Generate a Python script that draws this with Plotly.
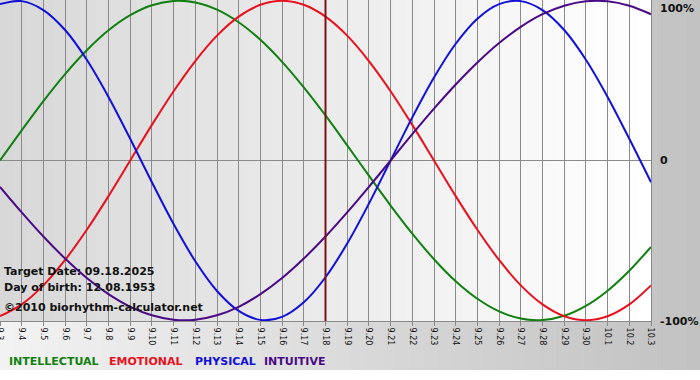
import plotly.graph_objects as go

days = ["9.3", "9.4", "9.5", "9.6", "9.7", "9.8", "9.9", "9.10", "9.11", "9.12",
        "9.13", "9.14", "9.15", "9.16", "9.17", "9.18", "9.19", "9.20", "9.21", "9.22",
        "9.23", "9.24", "9.25", "9.26", "9.27", "9.28", "9.29", "9.30", "10.1", "10.2", "10.3"]

intellectual = [0.000, 0.189, 0.372, 0.541, 0.690, 0.815, 0.910, 0.972, 0.999, 0.990,
                0.945, 0.866, 0.756, 0.618, 0.458, 0.282, 0.095, -0.095, -0.282, -0.458,
                -0.618, -0.756, -0.866, -0.945, -0.990, -0.999, -0.972, -0.910, -0.815, -0.690, -0.541]
emotional = [-0.975, -0.901, -0.782, -0.623, -0.434, -0.223, 0.000, 0.223, 0.434, 0.623,
             0.782, 0.901, 0.975, 1.000, 0.975, 0.901, 0.782, 0.623, 0.434, 0.223,
             0.000, -0.223, -0.434, -0.623, -0.782, -0.901, -0.975, -1.000, -0.975, -0.901, -0.782]
physical = [0.979, 0.998, 0.942, 0.817, 0.631, 0.398, 0.136, -0.136, -0.398, -0.631,
            -0.817, -0.942, -0.998, -0.979, -0.888, -0.731, -0.520, -0.270, 0.000, 0.270,
            0.520, 0.731, 0.888, 0.979, 0.998, 0.942, 0.817, 0.631, 0.398, 0.136, -0.136]
intuitive = [-0.165, -0.325, -0.476, -0.614, -0.736, -0.837, -0.916, -0.969, -0.997, -0.997,
             -0.969, -0.916, -0.837, -0.736, -0.614, -0.476, -0.325, -0.165, 0.000, 0.165,
             0.325, 0.476, 0.614, 0.736, 0.837, 0.916, 0.969, 0.997, 0.997, 0.969, 0.916]

series_names = ["INTELLECTUAL", "EMOTIONAL", "PHYSICAL", "INTUITIVE"]
series_values = [intellectual, emotional, physical, intuitive]
series_colors = ["#108010", "#e8101c", "#1010d8", "#4a0a86"]

target_day = "9.18"
info_lines = ["Target Date: 09.18.2025", "Day of birth: 12.08.1953", "\u00a92010 biorhythm-calculator.net"]
y_ticks = [1, 0, -1]
y_tick_labels = ["100%", "0", "-100%"]

W, H = 700, 380
PL, PR, PT, PB = 0, 651, 0, 321  # plot area in pixels


def px_x(x):
    return (x - PL) / (PR - PL)


def px_y(y):
    return (PB - y) / (PB - PT)


def gradient(x0, x1, y0, y1, c0, c1, n=48):
    out = []
    for i in range(n):
        t = i / (n - 1)
        c = round(c0 + (c1 - c0) * t)
        xa = x0 + (x1 - x0) * i / n
        xb = x0 + (x1 - x0) * (i + 1) / n + 0.5
        out.append(dict(type="rect", xref="paper", yref="paper",
                        x0=px_x(xa), x1=px_x(min(xb, x1)), y0=px_y(y1), y1=px_y(y0),
                        fillcolor=f"rgb({c},{c},{c})", line=dict(width=0), layer="below"))
    return out


fig = go.Figure()
for name, vals, col in zip(series_names, series_values, series_colors):
    fig.add_trace(go.Scatter(x=days, y=vals, mode="lines", name=name,
                             line=dict(color=col, width=2, shape="spline", smoothing=1.0),
                             hoverinfo="skip"))

shapes = []
shapes += gradient(0, 700, 0, 370, 242, 194)
shapes += gradient(PL, PR, PT, PB, 216, 255)
ti = days.index(target_day)
shapes.append(dict(type="line", xref="x", yref="paper", x0=ti, x1=ti, y0=0, y1=1,
                   line=dict(color="#7a1414", width=2), layer="above"))

annotations = []
for txt, yc in zip(info_lines, [271, 287, 307]):
    annotations.append(dict(text=txt, xref="paper", yref="paper", x=px_x(2), y=px_y(yc),
                            xanchor="left", yanchor="middle", showarrow=False,
                            font=dict(family="DejaVu Sans", size=11, color="#111111", weight="bold")))
for val, lab in zip(y_ticks, y_tick_labels):
    yc = {1: 8, 0: 161, -1: 322}[val]
    annotations.append(dict(text=lab, xref="paper", yref="paper", x=px_x(658), y=px_y(yc),
                            xanchor="left", yanchor="middle", showarrow=False,
                            font=dict(family="DejaVu Sans", size=11, color="#111111", weight="bold")))
for name, col, xl in zip(series_names, series_colors, [7, 107, 193, 262]):
    annotations.append(dict(text=name, xref="paper", yref="paper", x=px_x(xl), y=px_y(361),
                            xanchor="left", yanchor="middle", showarrow=False,
                            font=dict(family="DejaVu Sans", size=11, color=col, weight="bold")))

fig.update_layout(
    template="none",
    width=W, height=H,
    margin=dict(l=PL, r=W - PR, t=PT, b=H - PB, pad=0, autoexpand=False),
    paper_bgcolor="#ffffff",
    plot_bgcolor="rgba(0,0,0,0)",
    showlegend=False,
    shapes=shapes,
    annotations=annotations,
    xaxis=dict(type="category", range=[0, len(days) - 1], automargin=False,
               showgrid=True, gridcolor="#8a8a8a", gridwidth=1,
               showline=True, linecolor="#8a8a8a", linewidth=1, mirror=True,
               ticks="outside", ticklen=4, tickcolor="#8a8a8a",
               tickangle=90, tickfont=dict(family="DejaVu Sans", size=8, color="#111111"),
               zeroline=False, fixedrange=True),
    yaxis=dict(range=[-1.005, 1.005], automargin=False, showgrid=False,
               zeroline=True, zerolinecolor="#8a8a8a", zerolinewidth=1,
               showline=True, linecolor="#8a8a8a", mirror=True,
               showticklabels=False, ticks="", fixedrange=True),
)

fig.write_html("out.html")
